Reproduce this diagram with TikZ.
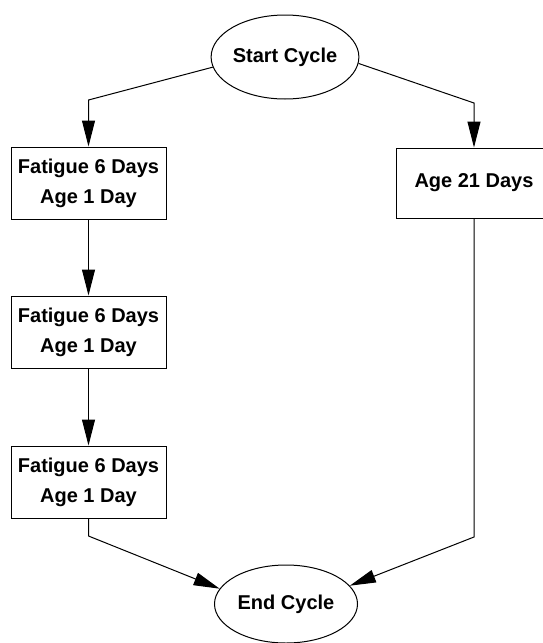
\documentclass[tikz,border=0pt]{standalone}
\usepackage{fontspec}
\setmainfont{Liberation Sans}
\usetikzlibrary{arrows.meta,shapes.geometric}

\begin{document}
\begin{tikzpicture}[x=0.5pt,y=-0.5pt,line width=0.5pt,
  >={Triangle[length=13pt,width=6.5pt]},
  box/.style={draw, minimum width=77.5pt, minimum height=36pt, inner sep=1pt, font=\bfseries, align=center},
  term/.style={draw, ellipse, inner sep=0pt, font=\bfseries}]
  \useasboundingbox (0,0) rectangle (542,643);
  \node[term, minimum width=72pt, minimum height=42pt] (start) at (285,57) {Start Cycle};
  \node[box] (fat1) at (88.5,183) {Fatigue 6 Days\\[3pt]Age 1 Day};
  \node[box] (fat2) at (88.5,332) {Fatigue 6 Days\\[3pt]Age 1 Day};
  \node[box] (fat3) at (88.5,482) {Fatigue 6 Days\\[3pt]Age 1 Day};
  \node[box, minimum height=35pt] (age) at (474,183) {Age 21 Days};
  \node[term, minimum width=71.5pt, minimum height=39pt] (end) at (286,604) {End Cycle};
  \coordinate (lbend) at (88.5,100);
  \coordinate (rbend) at (474,103);
  \coordinate (ljoin) at (88.5,536);
  \coordinate (rjoin) at (474,537);
  \draw[->] (start.188) -- (lbend) -- (fat1.north);
  \draw[->] (start.355) -- (rbend) -- (age.north);
  \draw[->] (fat1) -- (fat2);
  \draw[->] (fat2) -- (fat3);
  \draw[->] (fat3.south) -- (ljoin) -- (end.167);
  \draw[->] (age.south) -- (rjoin) -- (end.16);
\end{tikzpicture}
\end{document}
